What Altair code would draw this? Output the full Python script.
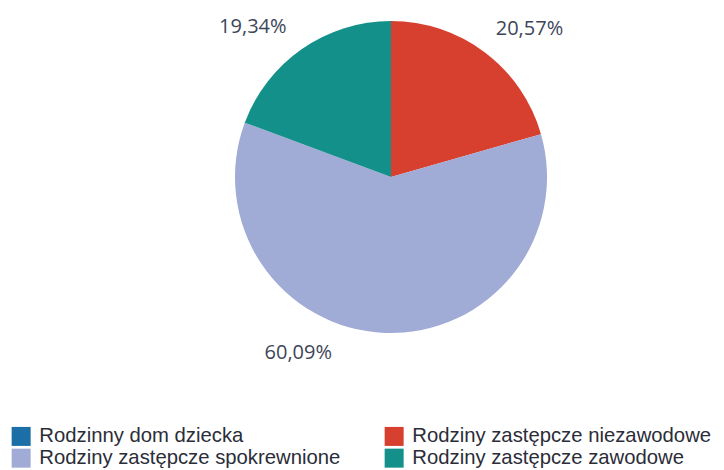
import altair as alt
import pandas as pd

categories = [
    "Rodzinny dom dziecka",
    "Rodziny zastępcze niezawodowe",
    "Rodziny zastępcze spokrewnione",
    "Rodziny zastępcze zawodowe",
]
values = [0.0, 20.57, 60.09, 19.34]
labels = ["", "20,57%", "60,09%", "19,34%"]
colors = ["#1c6fa6", "#d7402f", "#a0abd6", "#14908a"]
legend_order = [categories[0], categories[2], categories[1], categories[3]]

df = pd.DataFrame({
    "idx": list(range(len(categories))),
    "category": categories,
    "value": values,
    "label": labels,
})

CX, CY = 383, 169

base = alt.Chart(df)

pie = base.mark_arc(outerRadius=156).encode(
    theta=alt.Theta("value:Q", stack=True),
    order=alt.Order("idx:Q"),
    color=alt.Color(
        "category:N",
        scale=alt.Scale(domain=categories, range=colors),
        legend=alt.Legend(
            title=None,
            values=legend_order,
            orient="none",
            legendX=3,
            legendY=418,
            columns=2,
            symbolType="square",
            symbolSize=361,
            symbolStrokeWidth=0,
            labelFont="Liberation Sans",
            labelFontSize=20.3,
            labelColor="#2b2d38",
            labelOffset=8,
            columnPadding=43,
            rowPadding=1,
            padding=0,
            labelLimit=400,
        ),
    ),
    x=alt.value(CX),
    y=alt.value(CY),
)

offsets = {"20,57%": (18, 12), "60,09%": (-85, -24), "19,34%": (-24, 14)}

text_layers = []
for lab, (ddx, ddy) in offsets.items():
    t = (
        base.transform_window(cum="sum(value)", sort=[{"field": "idx"}])
        .transform_calculate(mid="datum.cum - datum.value / 2")
        .transform_filter(alt.datum.label == lab)
        .mark_text(radius=200, dx=ddx, dy=ddy, font="Open Sans", fontSize=20, color="#3d4658")
        .encode(theta=alt.Theta("mid:Q"), text="label:N", x=alt.value(CX), y=alt.value(CY))
    )
    text_layers.append(t)

chart = alt.layer(pie, *text_layers).properties(
    width=708, height=462, autosize=alt.AutoSizeParams(type="none"), padding=0
).configure_view(stroke=None)

chart.save("out.html", embed_options={"renderer": "svg", "actions": False})
